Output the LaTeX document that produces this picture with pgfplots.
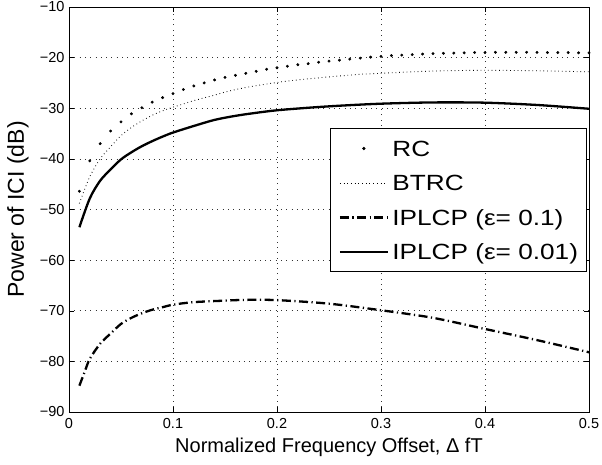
\documentclass[border=0pt]{standalone}
\usepackage{pgfplots}
\pgfplotsset{compat=1.18}
\usepackage{fontspec}
\setmainfont{Liberation Sans}
\newfontfamily\legfont[FakeStretch=1.19]{Liberation Sans}
\pgfplotsset{
  markleg/.style={legend image code/.code={\fill[black] (24pt,0pt) circle (1.25pt);}},
  lineleg/.style={legend image code/.code={\draw[##1] (0pt,0pt) -- (48pt,0pt);}},
}
\begin{document}
\begin{tikzpicture}
\begin{axis}[
  scale only axis,
  width=520pt, height=405pt,
  at={(0,0)}, anchor=south west,
  xmin=0, xmax=0.5, ymin=-90, ymax=-10,
  xtick={0,0.1,0.2,0.3,0.4,0.5},
  xticklabels={0,0.1,0.2,0.3,0.4,0.5},
  ytick={-90,-80,-70,-60,-50,-40,-30,-20,-10},
  yticklabels={−90,−80,−70,−60,−50,−40,−30,−20,−10},
  tick align=inside,
  major tick length=5pt,
  tick style={black, line width=0.5pt},
  axis line style={black, line width=0.8pt},
  grid=major,
  major grid style={black!80, line width=0.6pt, dash pattern=on 0.8pt off 4.5pt},
  ticklabel style={font=\fontsize{14.5}{17}\selectfont},
  xticklabel style={yshift=-3pt},
  yticklabel style={xshift=-1pt},
  xlabel={Normalized Frequency Offset, Δ fT},
  ylabel={Power of ICI (dB)},
  xlabel style={font=\fontsize{20}{24}\selectfont, at={(axis description cs:0.5,-0.101)}, anchor=base},
  ylabel style={font=\fontsize{23}{27}\selectfont, at={(axis description cs:-0.098,0.5)}, anchor=center},
  legend style={at={(0.995,0.7005)}, anchor=north east, draw=black, line width=0.8pt,
    fill=white, font={\fontsize{22}{26}\legfont}, inner xsep=8pt, inner ysep=9.5pt,
    nodes={inner xsep=0pt, inner ysep=0pt, text height=18pt, text depth=2.5pt},
    row sep=14pt, column sep=3.4pt},
  legend cell align=left,
]
\addplot[only marks, mark=*, mark size=1.25pt, black, markleg]
coordinates {
(0.01,-46.4)(0.02,-40.4)(0.03,-37.0)(0.04,-34.5)(0.05,-32.7)(0.06,-31.1)(0.07,-29.9)(0.08,-28.8)(0.09,-27.9)(0.10,-27.1)
(0.11,-26.3)(0.12,-25.6)(0.13,-25.0)(0.14,-24.4)(0.15,-23.9)(0.16,-23.5)(0.17,-23.1)(0.18,-22.7)(0.19,-22.3)(0.20,-22.0)
(0.21,-21.7)(0.22,-21.4)(0.23,-21.2)(0.24,-20.9)(0.25,-20.7)(0.26,-20.5)(0.27,-20.3)(0.28,-20.1)(0.29,-19.9)(0.30,-19.75)
(0.31,-19.6)(0.32,-19.5)(0.33,-19.4)(0.34,-19.3)(0.35,-19.2)(0.36,-19.15)(0.37,-19.1)(0.38,-19.05)(0.39,-19.0)(0.40,-19.0)
(0.41,-18.95)(0.42,-18.95)(0.43,-18.95)(0.44,-18.95)(0.45,-18.95)(0.46,-19.0)(0.47,-19.0)(0.48,-19.0)(0.49,-19.05)(0.50,-19.05)
};
\addlegendentry{RC}
\addplot[black, line width=0.9pt, smooth, dash pattern=on 0.7pt off 3pt, lineleg]
coordinates {
(0.01,-48.8)(0.02,-43.5)(0.03,-40.0)(0.04,-37.6)(0.05,-35.4)(0.06,-33.8)(0.07,-32.5)(0.08,-31.4)(0.09,-30.5)(0.10,-29.8)
(0.12,-28.5)(0.14,-27.4)(0.15,-26.8)(0.17,-25.9)(0.20,-24.9)(0.22,-24.4)(0.25,-23.8)(0.28,-23.3)(0.30,-23.1)(0.33,-22.8)
(0.36,-22.6)(0.40,-22.5)(0.45,-22.6)(0.50,-22.8)
};
\addlegendentry{BTRC}
\addplot[black, line width=2.3pt, smooth, dash pattern=on 9pt off 3.5pt on 1.2pt off 3.5pt, lineleg]
coordinates {
(0.01,-84.8)(0.015,-82.1)(0.02,-79.5)(0.03,-76.5)(0.04,-74.5)(0.05,-72.6)(0.06,-71.4)(0.07,-70.5)(0.08,-69.8)(0.09,-69.3)
(0.10,-68.8)(0.12,-68.3)(0.15,-68.0)(0.17,-67.85)(0.20,-67.9)(0.25,-68.6)(0.30,-69.9)(0.35,-71.4)(0.40,-73.6)(0.45,-75.8)(0.50,-78.2)
};
\addlegendentry{IPLCP (ε= 0.1)}
\addplot[black, line width=2.3pt, smooth, lineleg]
coordinates {
(0.01,-53.5)(0.02,-47.8)(0.03,-44.3)(0.04,-42.1)(0.05,-40.1)(0.06,-38.7)(0.07,-37.5)(0.08,-36.5)(0.09,-35.6)(0.10,-34.8)
(0.12,-33.5)(0.14,-32.3)(0.16,-31.5)(0.18,-30.9)(0.20,-30.4)(0.23,-29.9)(0.26,-29.5)(0.30,-29.1)(0.35,-28.85)(0.40,-28.9)
(0.45,-29.35)(0.50,-30.1)
};
\addlegendentry{IPLCP (ε= 0.01)}
\end{axis}
\pgfresetboundingbox
\path[use as bounding box] (-69pt,-52pt) rectangle (533pt,412pt);
\end{tikzpicture}
\end{document}
